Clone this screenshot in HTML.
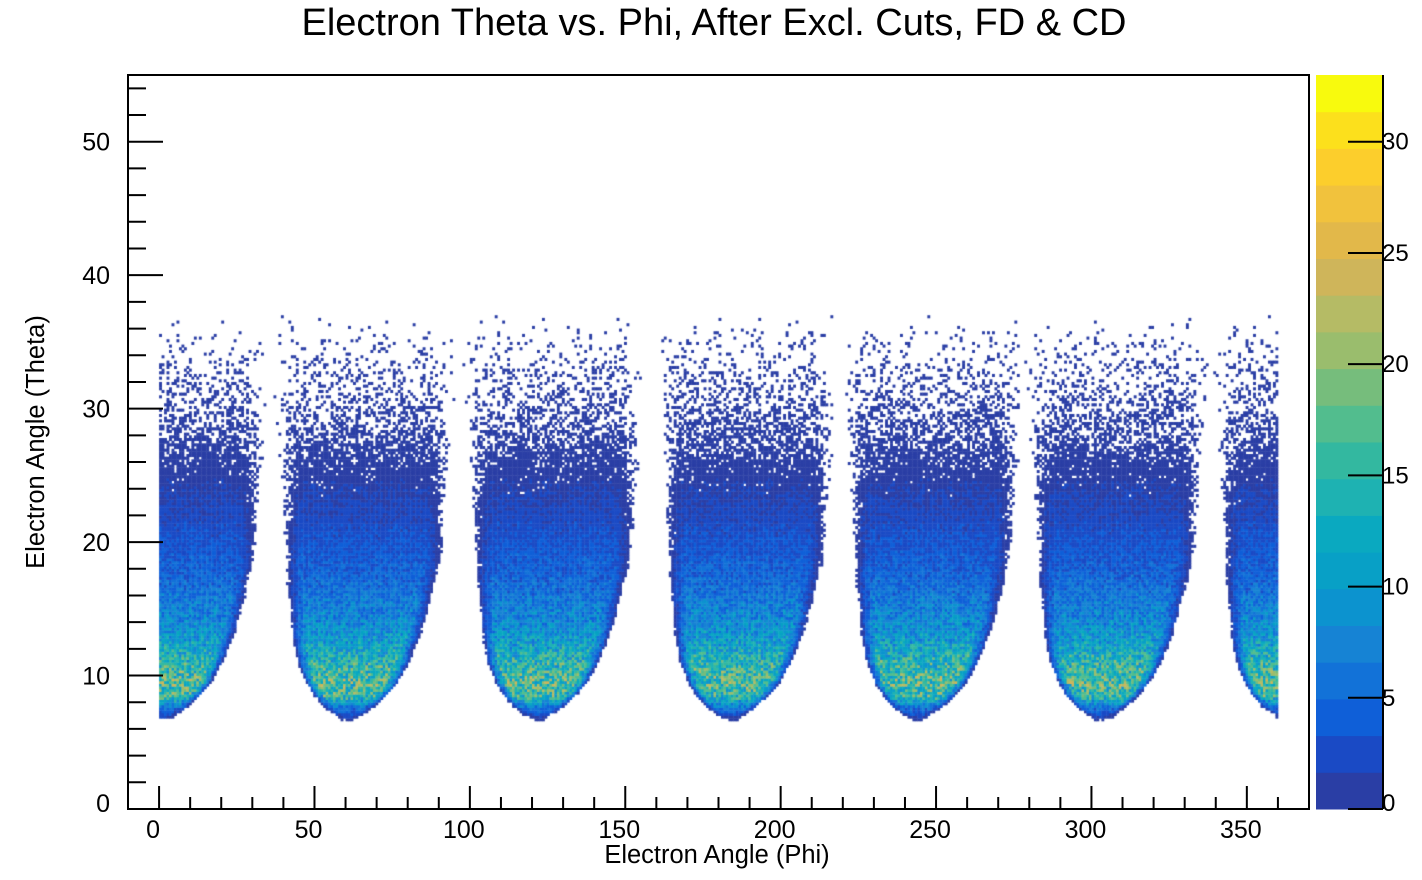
<!DOCTYPE html>
<html><head><meta charset="utf-8">
<style>
body{margin:0;background:#fff;width:1422px;height:880px;overflow:hidden;font-family:"Liberation Sans",sans-serif;}
#wrap{position:relative;width:1422px;height:880px;}
canvas,svg{position:absolute;left:0;top:0;}
</style></head>
<body>
<div id="wrap">
<canvas id="heat" width="1422" height="880"></canvas>
<svg id="ax" width="1422" height="880"></svg>
</div>
<script>
// ---- data ----
const sectorCenters = [6, 66, 127, 189, 249, 308, 368];
const thetaRows   = [6.5, 7.5, 8.5, 9.5, 11, 13, 15, 17, 19, 21, 23, 25, 28, 31, 34, 37];
const halfWidth   = [0, 6, 10, 13, 16, 18.5, 20, 21.5, 22.5, 23, 23.5, 24, 25, 25.5, 26, 26];
const centerShift = [-5, -5, -4.5, -4, -3.5, -2.5, -1.5, -1, 0, 0, 0, 0, 0, 0, 0, 0];
const peakCount   = [0, 5, 15, 17, 14, 9.5, 7, 5, 3.6, 2.6, 1.7, 1.1, 0.55, 0.3, 0.13, 0];
const xTicks = [0, 50, 100, 150, 200, 250, 300, 350];
const yTicks = [0, 10, 20, 30, 40, 50];
const zTicks = [0, 5, 10, 15, 20, 25, 30];
const palette = ["#2a3ea5","#1a4ac5","#0f5fd8","#1272d8","#1683d4","#0c93cf","#08a0c6","#0aa9c0","#1eb2b2","#33b8a0","#52bd8e","#76bd7c","#9abd6d","#b5bb65","#cfb55a","#e2b84a","#f1c23d","#fcce2c","#fce01c","#f8fa0d"];

// ---- geometry ----
const X0=128, X1=1309, Y0=75, Y1=809;
const xmin=-10, xmax=370, ymin=0, ymax=55, zmax=33;
const sx=v=>X0+(v-xmin)/(xmax-xmin)*(X1-X0);
const sy=v=>Y1-(v-ymin)/(ymax-ymin)*(Y1-Y0);
function interp(arr,t){
  if(t<=thetaRows[0]) return arr[0];
  for(let i=1;i<thetaRows.length;i++){
    if(t<=thetaRows[i]){const f=(t-thetaRows[i-1])/(thetaRows[i]-thetaRows[i-1]);return arr[i-1]+f*(arr[i]-arr[i-1]);}
  }
  return arr[arr.length-1];
}
function hash(a,b){let h=(a*374761393+b*668265263)|0;h=(h^(h>>>13))*1274126177|0;h=h^(h>>>16);return ((h>>>0)%10000)/10000;}
const colorOf=c=>palette[Math.min(palette.length-1,Math.floor(c/zmax*palette.length))];

const ctx=document.getElementById('heat').getContext('2d');
const dphi=0.8, dth=0.2;
for(let i=0;i*dphi<360;i++){
  const phi=i*dphi+dphi/2;
  for(let j=Math.round(6/dth);j*dth<38;j++){
    const th=j*dth+dth/2;
    const hw=interp(halfWidth,th), sh=interp(centerShift,th);
    const soft=2+th/6;
    let best=0;
    if(hw>0) for(const c of sectorCenters){
      const d=Math.abs(phi-(c+sh));
      let f=d<hw-soft/2?1:Math.max(0,(hw+soft/2-d)/soft);
      best=Math.max(best,f);
    }
    let cnt=interp(peakCount,th)*best;
    if(cnt<=0) continue;
    const r=hash(i,j);
    cnt=cnt*(0.55+0.9*hash(j+17,i+91));
    if(cnt<1){ if(r>cnt) continue; cnt=1; }
    ctx.fillStyle=colorOf(cnt);
    const xa=sx(phi-dphi/2), xb=sx(phi+dphi/2), ya=sy(th+dth/2), yb=sy(th-dth/2);
    ctx.fillRect(xa,ya,xb-xa+0.4,yb-ya+0.4);
  }
}

// ---- axes svg ----
const svg=document.getElementById('ax');
const NS="http://www.w3.org/2000/svg";
function el(tag,attrs,parent){const e=document.createElementNS(NS,tag);for(const k in attrs)e.setAttribute(k,attrs[k]);(parent||svg).appendChild(e);return e;}
let e;
e=el('rect',{x:X0,y:Y0,width:X1-X0,height:Y1-Y0,fill:'none',stroke:'#000','stroke-width':2});


for(let v=0;v<=370;v+=10){
  const big=v%50===0;
  e=el('line',{x1:sx(v),x2:sx(v),y1:Y1,y2:Y1-(big?23:12),stroke:'#000','stroke-width':2});
  
  
}
xTicks.forEach(v=>{
  e=el('text',{x:sx(v)-6,y:838,'font-size':25,'text-anchor':'middle','font-family':'Liberation Sans, sans-serif'});
  e.textContent=v;
  
  
});
for(let v=0;v<=54;v+=2){
  const big=v%10===0;
  e=el('line',{x1:X0,x2:X0+(big?35:18),y1:sy(v),y2:sy(v),stroke:'#000','stroke-width':2});
  
  
}
yTicks.forEach(v=>{
  e=el('text',{x:110,y:sy(v)+(v===0?3:9),'font-size':25,'text-anchor':'end','font-family':'Liberation Sans, sans-serif'});
  e.textContent=v;
  
  
});
e=el('text',{x:717,y:863,'font-size':25.5,'text-anchor':'middle','font-family':'Liberation Sans, sans-serif'});
e.textContent='Electron Angle (Phi)';


e=el('text',{x:0,y:0,'font-size':25.5,'text-anchor':'middle','font-family':'Liberation Sans, sans-serif',transform:'translate(44,442) rotate(-90)'});
e.textContent='Electron Angle (Theta)';


e=el('text',{x:714,y:35,'font-size':38,'text-anchor':'middle','font-family':'Liberation Sans, sans-serif'});
e.textContent='Electron Theta vs. Phi, After Excl. Cuts, FD & CD';


const CB0=1316, CB1=1383;
const bandH=(Y1-Y0)/palette.length;
palette.forEach((c,i)=>{
  e=el('rect',{x:CB0,y:Y1-(i+1)*bandH,width:CB1-CB0,height:bandH+0.5,fill:c});
  
  
});
e=el('line',{x1:CB1,x2:CB1,y1:Y0,y2:Y1,stroke:'#000','stroke-width':2});


const sz=v=>Y1-v/zmax*(Y1-Y0);
zTicks.forEach(v=>{
  e=el('line',{x1:CB1-35,x2:CB1,y1:sz(v),y2:sz(v),stroke:'#000','stroke-width':2});
  
  
  e=el('text',{x:CB1-1,y:sz(v)+(v===0?2:8),'font-size':24,'font-family':'Liberation Sans, sans-serif'});
  e.textContent=v;
  
  
});
</script>
</body></html>
